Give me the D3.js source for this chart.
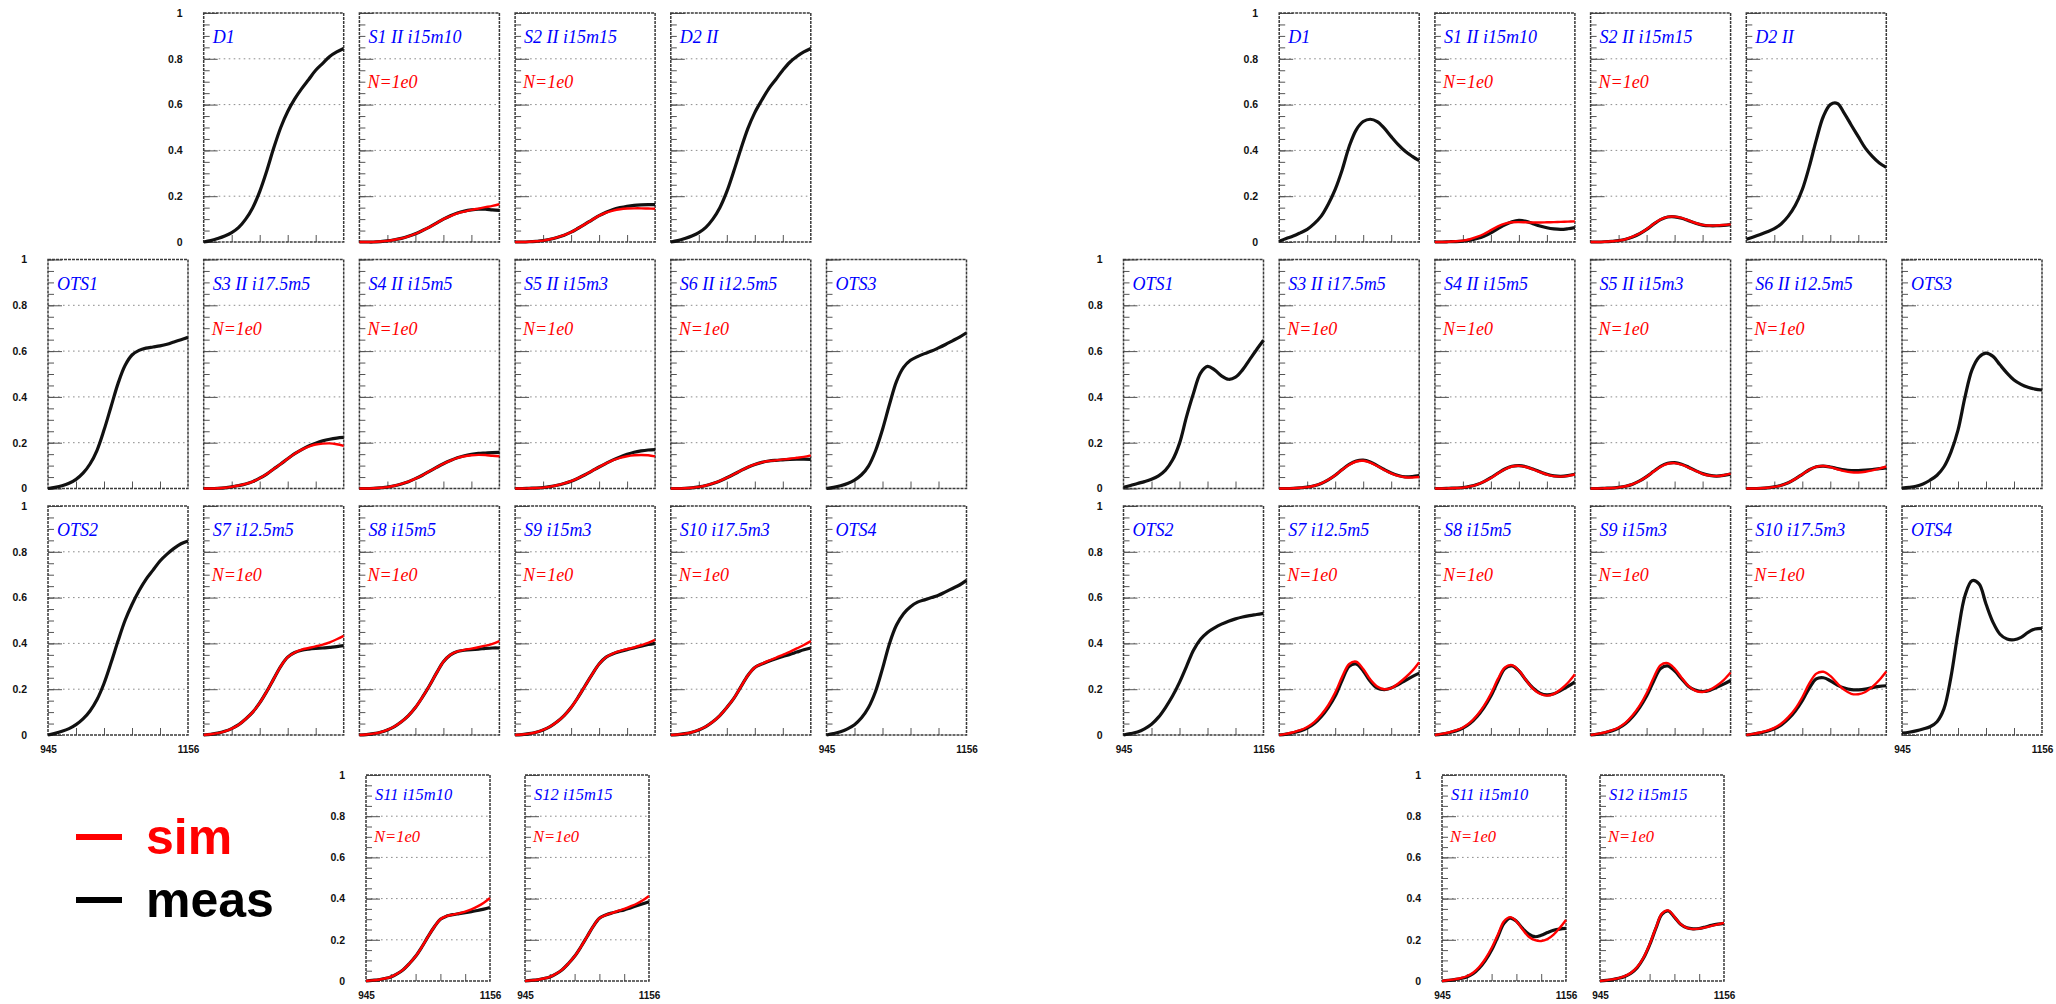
<!DOCTYPE html>
<html>
<head>
<meta charset="utf-8">
<script src="https://cdn.jsdelivr.net/npm/d3@7"></script>
<style>
  body { margin: 0; background: #fff; }
  svg { display: block; }
</style>
</head>
<body>
<svg id="chart" width="2056" height="1004"></svg>
<script>
// Wavelength sampling shared by every spectrum (nm)
const wavelengths = [945, 955.6, 966.1, 976.7, 987.2, 997.8, 1008.3, 1018.9, 1029.4, 1040, 1050.5,
                     1061.1, 1071.6, 1082.2, 1092.7, 1103.3, 1113.8, 1124.4, 1134.9, 1145.5, 1156];
const xDomain = [945, 1156];
const xTickValues = [987.2, 1029.4, 1071.6, 1113.8];
const xTickLabels = [945, 1156];
const yTickValues = [0, 0.2, 0.4, 0.6, 0.8, 1];
const yTickLabels = ['0', '0.2', '0.4', '0.6', '0.8', '1'];
const gridValues = [0.2, 0.4, 0.6, 0.8];

// ---------- left set ----------
const measL_D1   = [0,0.006,0.015,0.026,0.041,0.064,0.1,0.15,0.22,0.31,0.41,0.5,0.57,0.625,0.67,0.71,0.75,0.78,0.81,0.83,0.845];
const measL_S1   = [0,0,0,0.002,0.005,0.01,0.016,0.025,0.036,0.05,0.065,0.082,0.1,0.115,0.127,0.135,0.14,0.143,0.143,0.14,0.138];
const simL_S1    = [0,0,0,0.002,0.005,0.01,0.016,0.025,0.036,0.05,0.065,0.082,0.1,0.113,0.125,0.133,0.14,0.146,0.152,0.158,0.165];
const measL_S2   = [0,0,0.001,0.003,0.006,0.012,0.02,0.03,0.043,0.06,0.078,0.097,0.115,0.13,0.142,0.15,0.156,0.16,0.162,0.163,0.163];
const simL_S2    = [0,0,0.001,0.003,0.006,0.012,0.02,0.03,0.043,0.06,0.078,0.097,0.115,0.128,0.137,0.143,0.146,0.147,0.147,0.146,0.145];
const measL_D2   = [0,0.006,0.015,0.026,0.041,0.064,0.1,0.15,0.22,0.31,0.405,0.495,0.565,0.62,0.67,0.71,0.75,0.785,0.81,0.83,0.845];
const measL_OTS1 = [0,0.005,0.012,0.023,0.04,0.067,0.107,0.167,0.255,0.357,0.458,0.537,0.583,0.603,0.613,0.618,0.623,0.63,0.64,0.65,0.66];
const measL_S3   = [0,0,0.001,0.003,0.007,0.013,0.02,0.03,0.045,0.063,0.085,0.107,0.13,0.152,0.17,0.186,0.198,0.208,0.215,0.22,0.223];
const simL_S3    = [0,0,0.001,0.003,0.007,0.013,0.02,0.03,0.045,0.063,0.085,0.107,0.13,0.152,0.17,0.183,0.192,0.196,0.197,0.193,0.186];
const measL_S4   = [0,0,0.001,0.003,0.006,0.012,0.02,0.03,0.043,0.058,0.075,0.092,0.108,0.122,0.134,0.143,0.149,0.153,0.155,0.157,0.158];
const simL_S4    = [0,0,0.001,0.003,0.006,0.012,0.02,0.03,0.043,0.058,0.075,0.092,0.108,0.122,0.134,0.141,0.145,0.147,0.146,0.143,0.141];
const measL_S5   = [0,0,0.001,0.002,0.004,0.008,0.014,0.022,0.032,0.045,0.06,0.077,0.094,0.11,0.125,0.138,0.149,0.158,0.164,0.168,0.17];
const simL_S5    = [0,0,0.001,0.002,0.004,0.008,0.014,0.022,0.032,0.045,0.06,0.077,0.094,0.11,0.124,0.134,0.141,0.145,0.146,0.145,0.14];
const measL_S6   = [0,0,0.001,0.003,0.007,0.013,0.022,0.033,0.047,0.062,0.078,0.093,0.105,0.114,0.12,0.123,0.125,0.127,0.128,0.128,0.127];
const simL_S6    = [0,0,0.001,0.003,0.007,0.013,0.022,0.033,0.047,0.062,0.078,0.093,0.105,0.114,0.12,0.123,0.127,0.13,0.134,0.138,0.145];
const measL_OTS3 = [0,0.005,0.012,0.022,0.037,0.06,0.098,0.165,0.258,0.368,0.468,0.529,0.56,0.576,0.589,0.6,0.614,0.629,0.645,0.661,0.68];
const measL_OTS2 = [0,0.007,0.016,0.028,0.045,0.07,0.105,0.155,0.225,0.315,0.41,0.5,0.57,0.63,0.68,0.72,0.76,0.79,0.815,0.835,0.847];
const measL_S7   = [0,0.003,0.008,0.016,0.028,0.045,0.07,0.1,0.14,0.19,0.245,0.3,0.34,0.36,0.37,0.375,0.378,0.38,0.383,0.386,0.39];
const simL_S7    = [0,0.003,0.008,0.016,0.028,0.045,0.07,0.1,0.14,0.19,0.245,0.3,0.34,0.36,0.373,0.38,0.387,0.395,0.405,0.418,0.433];
const measL_S8   = [0,0.002,0.006,0.012,0.022,0.037,0.058,0.085,0.12,0.165,0.215,0.27,0.32,0.35,0.365,0.37,0.373,0.375,0.378,0.38,0.38];
const simL_S8    = [0,0.002,0.006,0.012,0.022,0.037,0.058,0.085,0.12,0.165,0.215,0.27,0.32,0.35,0.365,0.372,0.377,0.383,0.39,0.398,0.41];
const measL_S9   = [0,0.002,0.006,0.012,0.022,0.037,0.058,0.085,0.12,0.165,0.215,0.265,0.31,0.34,0.355,0.365,0.373,0.38,0.388,0.395,0.4];
const simL_S9    = [0,0.002,0.006,0.012,0.022,0.037,0.058,0.085,0.12,0.165,0.215,0.265,0.31,0.34,0.356,0.367,0.375,0.383,0.392,0.402,0.415];
const measL_S10  = [0,0.002,0.006,0.012,0.022,0.037,0.058,0.085,0.12,0.16,0.21,0.26,0.295,0.31,0.322,0.333,0.343,0.352,0.362,0.372,0.38];
const simL_S10   = [0,0.002,0.006,0.012,0.022,0.037,0.058,0.085,0.12,0.16,0.21,0.26,0.295,0.311,0.325,0.337,0.35,0.363,0.378,0.393,0.41];
const measL_OTS4 = [0,0.006,0.014,0.027,0.045,0.075,0.12,0.19,0.29,0.4,0.48,0.53,0.56,0.58,0.59,0.6,0.61,0.625,0.64,0.655,0.675];
const measL_S11  = [0,0.003,0.006,0.012,0.02,0.035,0.055,0.085,0.12,0.165,0.215,0.262,0.3,0.315,0.322,0.327,0.332,0.337,0.342,0.349,0.357];
const simL_S11   = [0,0.003,0.006,0.012,0.02,0.035,0.055,0.085,0.12,0.165,0.215,0.262,0.3,0.315,0.322,0.328,0.337,0.348,0.362,0.38,0.403];
const measL_S12  = [0,0.003,0.006,0.012,0.02,0.035,0.055,0.085,0.12,0.165,0.215,0.265,0.305,0.32,0.33,0.338,0.345,0.355,0.365,0.375,0.385];
const simL_S12   = [0,0.003,0.006,0.012,0.02,0.035,0.055,0.085,0.12,0.165,0.215,0.265,0.305,0.32,0.33,0.34,0.35,0.362,0.375,0.392,0.413];

// ---------- right set ----------
const measR_D1   = [0.003,0.015,0.026,0.04,0.055,0.08,0.113,0.165,0.23,0.316,0.417,0.49,0.526,0.536,0.526,0.497,0.46,0.425,0.396,0.374,0.355];
const measR_S1   = [0,0,0.001,0.002,0.004,0.008,0.015,0.025,0.04,0.058,0.075,0.088,0.094,0.09,0.08,0.07,0.062,0.057,0.055,0.058,0.063];
const simR_S1    = [0,0,0.001,0.003,0.006,0.012,0.022,0.035,0.052,0.068,0.08,0.086,0.087,0.086,0.085,0.085,0.086,0.087,0.088,0.089,0.09];
const measR_S2   = [0,0,0.001,0.003,0.006,0.012,0.022,0.036,0.055,0.078,0.098,0.109,0.11,0.104,0.093,0.082,0.074,0.071,0.071,0.073,0.076];
const simR_S2    = [0,0,0.001,0.003,0.006,0.012,0.023,0.037,0.056,0.079,0.099,0.11,0.111,0.105,0.094,0.083,0.075,0.072,0.072,0.074,0.077];
const measR_D2   = [0.012,0.022,0.033,0.045,0.058,0.08,0.113,0.16,0.229,0.33,0.446,0.548,0.6,0.605,0.562,0.51,0.46,0.41,0.374,0.345,0.326];
const measR_OTS1 = [0.005,0.013,0.022,0.03,0.04,0.055,0.08,0.124,0.197,0.314,0.416,0.504,0.533,0.518,0.492,0.477,0.486,0.518,0.562,0.606,0.647];
const measR_S3   = [0,0,0.001,0.003,0.006,0.012,0.022,0.038,0.058,0.083,0.105,0.12,0.124,0.116,0.1,0.083,0.068,0.057,0.051,0.052,0.056];
const simR_S3    = [0,0,0.001,0.003,0.006,0.012,0.022,0.038,0.058,0.082,0.104,0.118,0.121,0.113,0.098,0.081,0.066,0.055,0.049,0.048,0.05];
const measR_S4   = [0,0,0.001,0.002,0.004,0.009,0.017,0.03,0.047,0.067,0.085,0.097,0.1,0.095,0.085,0.073,0.062,0.055,0.053,0.056,0.062];
const simR_S4    = [0,0,0.001,0.002,0.004,0.009,0.017,0.03,0.046,0.066,0.084,0.096,0.099,0.094,0.084,0.072,0.061,0.054,0.052,0.055,0.061];
const measR_S5   = [0,0,0.001,0.002,0.005,0.01,0.019,0.033,0.052,0.075,0.097,0.11,0.113,0.106,0.093,0.078,0.065,0.057,0.054,0.057,0.063];
const simR_S5    = [0,0,0.001,0.002,0.005,0.01,0.019,0.033,0.051,0.074,0.095,0.108,0.111,0.104,0.091,0.077,0.064,0.056,0.054,0.058,0.065];
const measR_S6   = [0,0,0.001,0.003,0.007,0.014,0.025,0.042,0.062,0.082,0.095,0.098,0.094,0.087,0.081,0.078,0.078,0.08,0.083,0.087,0.09];
const simR_S6    = [0,0,0.001,0.003,0.007,0.014,0.025,0.042,0.062,0.082,0.095,0.098,0.093,0.084,0.076,0.071,0.07,0.073,0.079,0.087,0.096];
const measR_OTS3 = [0.002,0.005,0.01,0.02,0.036,0.058,0.095,0.16,0.255,0.4,0.518,0.574,0.591,0.577,0.54,0.504,0.474,0.455,0.442,0.434,0.43];
const measR_OTS2 = [0,0.006,0.013,0.027,0.047,0.078,0.12,0.17,0.23,0.3,0.37,0.418,0.448,0.468,0.484,0.497,0.507,0.515,0.521,0.526,0.531];
const measR_S7   = [0,0.004,0.01,0.018,0.03,0.05,0.08,0.12,0.17,0.24,0.3,0.31,0.28,0.235,0.205,0.198,0.205,0.22,0.238,0.255,0.27];
const simR_S7    = [0,0.005,0.012,0.021,0.035,0.056,0.088,0.13,0.185,0.255,0.31,0.32,0.288,0.243,0.212,0.2,0.205,0.225,0.25,0.28,0.318];
const measR_S8   = [0,0.004,0.01,0.018,0.03,0.05,0.08,0.12,0.17,0.235,0.29,0.302,0.28,0.24,0.205,0.183,0.175,0.18,0.195,0.212,0.232];
const simR_S8    = [0,0.005,0.011,0.02,0.033,0.054,0.085,0.127,0.18,0.245,0.295,0.305,0.282,0.24,0.203,0.18,0.172,0.18,0.2,0.228,0.265];
const measR_S9   = [0,0.004,0.01,0.018,0.03,0.05,0.08,0.12,0.17,0.235,0.29,0.302,0.28,0.245,0.212,0.195,0.19,0.195,0.208,0.222,0.238];
const simR_S9    = [0,0.005,0.011,0.02,0.033,0.054,0.086,0.128,0.182,0.25,0.305,0.314,0.29,0.25,0.213,0.193,0.188,0.197,0.215,0.24,0.273];
const measR_S10  = [0,0.004,0.009,0.016,0.027,0.044,0.07,0.105,0.15,0.205,0.245,0.25,0.237,0.218,0.205,0.198,0.197,0.2,0.207,0.212,0.215];
const simR_S10   = [0,0.005,0.011,0.019,0.031,0.05,0.078,0.115,0.165,0.225,0.268,0.276,0.258,0.225,0.197,0.18,0.178,0.188,0.21,0.24,0.277];
const measR_OTS4 = [0.008,0.012,0.018,0.026,0.036,0.058,0.115,0.255,0.448,0.609,0.674,0.66,0.572,0.492,0.44,0.419,0.416,0.426,0.448,0.463,0.466];
const measR_S11  = [0,0.003,0.007,0.012,0.02,0.035,0.062,0.1,0.15,0.215,0.28,0.305,0.29,0.255,0.228,0.215,0.222,0.235,0.246,0.252,0.255];
const simR_S11   = [0,0.004,0.008,0.014,0.023,0.04,0.068,0.108,0.16,0.225,0.29,0.31,0.29,0.25,0.215,0.198,0.194,0.203,0.225,0.258,0.296];
const measR_S12  = [0,0.003,0.007,0.013,0.022,0.038,0.065,0.11,0.175,0.255,0.325,0.34,0.31,0.275,0.258,0.253,0.255,0.262,0.27,0.276,0.28];
const simR_S12   = [0,0.003,0.008,0.014,0.024,0.04,0.068,0.113,0.178,0.258,0.328,0.343,0.312,0.276,0.258,0.252,0.254,0.26,0.268,0.275,0.282];

// Panel grid: three rows of six slots, plus a short bottom row
const panelIds = [
  [null, 'D1', 'S1', 'S2', 'D2', null],
  ['OTS1', 'S3', 'S4', 'S5', 'S6', 'OTS3'],
  ['OTS2', 'S7', 'S8', 'S9', 'S10', 'OTS4']
];
const bottomIds = ['S11', 'S12'];
const panelTitles = {
  D1: 'D1', S1: 'S1 II i15m10', S2: 'S2 II i15m15', D2: 'D2 II',
  OTS1: 'OTS1', S3: 'S3 II i17.5m5', S4: 'S4 II i15m5', S5: 'S5 II i15m3', S6: 'S6 II i12.5m5', OTS3: 'OTS3',
  OTS2: 'OTS2', S7: 'S7 i12.5m5', S8: 'S8 i15m5', S9: 'S9 i15m3', S10: 'S10 i17.5m3', OTS4: 'OTS4',
  S11: 'S11 i15m10', S12: 'S12 i15m15'
};
const simNote = 'N=1e0';
const legendLabels = ['sim', 'meas'];
const legendColors = ['#ff0000', '#000000'];

const measLeft = { D1: measL_D1, S1: measL_S1, S2: measL_S2, D2: measL_D2, OTS1: measL_OTS1, S3: measL_S3,
  S4: measL_S4, S5: measL_S5, S6: measL_S6, OTS3: measL_OTS3, OTS2: measL_OTS2, S7: measL_S7, S8: measL_S8,
  S9: measL_S9, S10: measL_S10, OTS4: measL_OTS4, S11: measL_S11, S12: measL_S12 };
const simLeft = { S1: simL_S1, S2: simL_S2, S3: simL_S3, S4: simL_S4, S5: simL_S5, S6: simL_S6, S7: simL_S7,
  S8: simL_S8, S9: simL_S9, S10: simL_S10, S11: simL_S11, S12: simL_S12 };
const measRight = { D1: measR_D1, S1: measR_S1, S2: measR_S2, D2: measR_D2, OTS1: measR_OTS1, S3: measR_S3,
  S4: measR_S4, S5: measR_S5, S6: measR_S6, OTS3: measR_OTS3, OTS2: measR_OTS2, S7: measR_S7, S8: measR_S8,
  S9: measR_S9, S10: measR_S10, OTS4: measR_OTS4, S11: measR_S11, S12: measR_S12 };
const simRight = { S1: simR_S1, S2: simR_S2, S3: simR_S3, S4: simR_S4, S5: simR_S5, S6: simR_S6, S7: simR_S7,
  S8: simR_S8, S9: simR_S9, S10: simR_S10, S11: simR_S11, S12: simR_S12 };

// Layout
const colPitch = 155.7, panelW = 140, panelH = 229;
const rowTops = [13, 259.5, 506];
const bottomTop = 775, bottomW = 124, bottomH = 206;
const sets = [
  { x0: 48,     bottomX: [366, 525],   meas: measLeft,  sim: simLeft },
  { x0: 1123.5, bottomX: [1442, 1600], meas: measRight, sim: simRight }
];

const svg = d3.select('#chart');

function drawPanel(p) {
  const { x, y, w, h, title, meas, sim, yLabels, xLabels, fs } = p;
  const xs = d3.scaleLinear().domain(xDomain).range([0, w]);
  const ys = d3.scaleLinear().domain([0, 1]).range([h, 0]);
  const g = svg.append('g').attr('transform', `translate(${x},${y})`);

  g.append('rect').attr('width', w).attr('height', h).attr('fill', '#fff');

  // horizontal dotted grid
  g.selectAll('line.grid').data(gridValues).join('line')
    .attr('class', 'grid')
    .attr('x1', 0).attr('x2', w)
    .attr('y1', d => ys(d)).attr('y2', d => ys(d))
    .attr('stroke', '#8c8c8c').attr('stroke-width', 1)
    .attr('stroke-dasharray', '1.6,3.4');

  // y ticks drawn inward from the left edge
  const minorTicks = d3.range(0, 1.0001, 0.05);
  const yMinor = g.append('g').call(d3.axisRight(ys).tickValues(minorTicks).tickSize(6).tickFormat(''));
  const yMajor = g.append('g').call(d3.axisRight(ys).tickValues(yTickValues).tickSize(14).tickFormat(''));
  [yMinor, yMajor].forEach(a => {
    a.select('.domain').remove();
    a.selectAll('line').attr('stroke', '#555').attr('stroke-width', 1);
  });

  // x ticks drawn upward from the bottom edge
  const xAx = g.append('g').attr('transform', `translate(0,${h})`)
    .call(d3.axisTop(xs).tickValues(xTickValues).tickSize(7).tickFormat(''));
  xAx.select('.domain').remove();
  xAx.selectAll('line').attr('stroke', '#555').attr('stroke-width', 1);

  // frame
  g.append('rect').attr('width', w).attr('height', h)
    .attr('fill', 'none').attr('stroke', '#3a3a3a').attr('stroke-width', 1.5)
    .attr('stroke-dasharray', '3,1');

  const line = values => d3.line()
    .x((d, i) => xs(wavelengths[i]))
    .y(d => ys(d))
    .curve(d3.curveCatmullRom.alpha(0.5))(values);

  g.append('path').attr('d', line(meas))
    .attr('fill', 'none').attr('stroke', '#111').attr('stroke-width', 3.2)
    .attr('stroke-linejoin', 'round');
  if (sim) {
    g.append('path').attr('d', line(sim))
      .attr('fill', 'none').attr('stroke', '#ff0000').attr('stroke-width', 2.4)
      .attr('stroke-linejoin', 'round');
  }

  g.append('text').attr('x', 9).attr('y', fs.titleY)
    .attr('font-family', "'Liberation Serif', serif").attr('font-style', 'italic')
    .attr('font-size', fs.size).attr('fill', '#0000ff').text(title);
  if (sim) {
    g.append('text').attr('x', 8).attr('y', fs.noteY)
      .attr('font-family', "'Liberation Serif', serif").attr('font-style', 'italic')
      .attr('font-size', fs.size).attr('fill', '#ff0000').text(simNote);
  }

  if (yLabels) {
    const ya = g.append('g').call(d3.axisLeft(ys).tickValues(yTickValues).tickSize(0).tickPadding(21)
      .tickFormat((d, i) => yTickLabels[i]));
    ya.select('.domain').remove();
    ya.selectAll('text').attr('font-family', "'Liberation Sans', Arial, sans-serif")
      .attr('font-weight', 'bold').attr('font-size', 10.5).attr('fill', '#111');
  }
  if (xLabels) {
    const xa = g.append('g').attr('transform', `translate(0,${h})`)
      .call(d3.axisBottom(xs).tickValues(xTickLabels).tickSize(0).tickPadding(11).tickFormat(d3.format('d')));
    xa.select('.domain').remove();
    xa.selectAll('text').attr('font-family', "'Liberation Sans', Arial, sans-serif")
      .attr('font-weight', 'bold').attr('font-size', 10).attr('fill', '#111');
  }
}

const mainFont = { size: 18, titleY: 30, noteY: 75 };
const bottomFont = { size: 16.5, titleY: 25, noteY: 67 };

sets.forEach(set => {
  panelIds.forEach((row, r) => {
    row.forEach((id, c) => {
      if (!id) return;
      drawPanel({
        x: set.x0 + c * colPitch, y: rowTops[r], w: panelW, h: panelH,
        title: panelTitles[id], meas: set.meas[id], sim: set.sim[id],
        yLabels: c === row.findIndex(v => v !== null),
        xLabels: r === 2 && (c === 0 || c === 5),
        fs: mainFont
      });
    });
  });
  bottomIds.forEach((id, k) => {
    drawPanel({
      x: set.bottomX[k], y: bottomTop, w: bottomW, h: bottomH,
      title: panelTitles[id], meas: set.meas[id], sim: set.sim[id],
      yLabels: k === 0, xLabels: true, fs: bottomFont
    });
  });
});

// legend
const legend = svg.append('g').attr('transform', 'translate(76,0)');
legendLabels.forEach((label, i) => {
  const cy = [837, 900][i];
  legend.append('line').attr('x1', 0).attr('x2', 46).attr('y1', cy).attr('y2', cy)
    .attr('stroke', legendColors[i]).attr('stroke-width', 6);
  legend.append('text').attr('x', 70).attr('y', cy + 17)
    .attr('font-family', "'Liberation Sans', Arial, sans-serif").attr('font-weight', 'bold')
    .attr('font-size', 50).attr('fill', legendColors[i]).text(label);
});
</script>
</body>
</html>
